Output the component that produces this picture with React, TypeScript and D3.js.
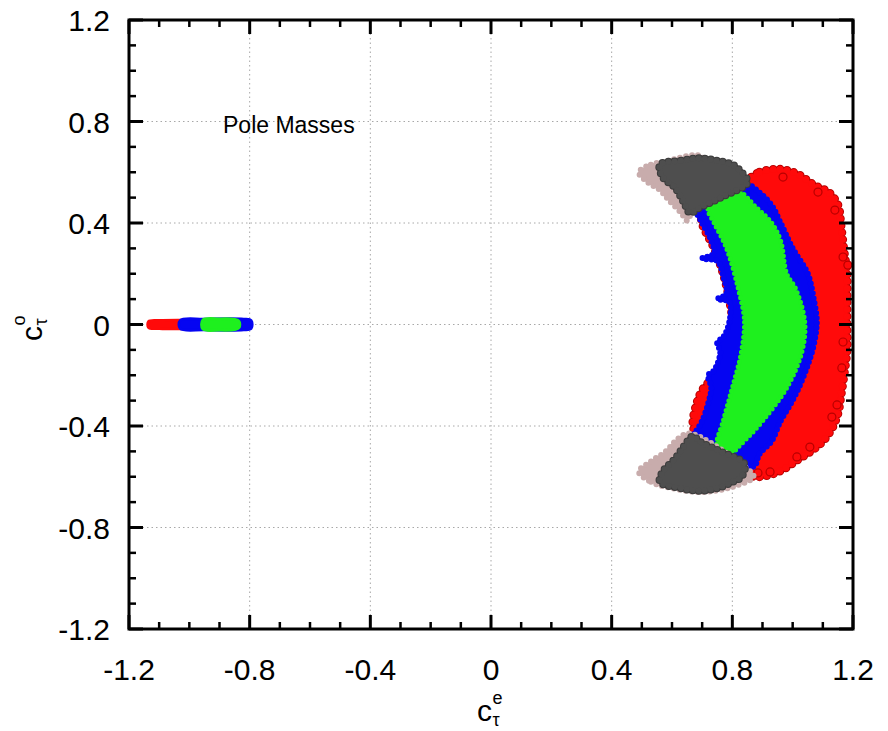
import React from "react";
import * as d3 from "d3";

// Axis ticks (both axes share the same range)
const majorTicks = [-1.2, -0.8, -0.4, 0, 0.4, 0.8, 1.2];
const tickLabels = ["-1.2", "-0.8", "-0.4", "0", "0.4", "0.8", "1.2"];

// Allowed parameter regions, outlined as [c_e, c_o] polygons.
// Red: widest region
const redCrescent: [number, number][] = [
  [0.85, 0.57], [0.89, 0.6], [0.93, 0.61], [0.97, 0.61], [1.02, 0.59], [1.07, 0.55],
  [1.12, 0.52], [1.15, 0.47], [1.16, 0.39], [1.17, 0.29], [1.18, 0.2], [1.18, 0.1],
  [1.18, 0.0], [1.18, -0.1], [1.17, -0.2], [1.16, -0.28], [1.15, -0.35], [1.13, -0.41],
  [1.1, -0.46], [1.06, -0.5], [1.02, -0.53], [0.97, -0.57], [0.93, -0.59], [0.88, -0.6],
  [0.85, -0.59], [0.79, -0.54], [0.73, -0.49], [0.69, -0.45], [0.67, -0.4], [0.68, -0.32],
  [0.7, -0.26], [0.74, -0.2], [0.78, -0.1], [0.8, 0.0], [0.79, 0.1], [0.77, 0.2],
  [0.74, 0.3], [0.7, 0.4], [0.7, 0.46], [0.76, 0.51],
];
// Isolated red points along the outer fringe
const redOutliers: [number, number][] = [
  [0.968, 0.581], [1.084, 0.522], [1.14, 0.451], [1.167, 0.266], [1.183, 0.234],
  [1.167, -0.069], [1.163, -0.171], [1.147, -0.317], [1.13, -0.365], [1.057, -0.483],
  [1.014, -0.522], [0.925, -0.581], [0.885, -0.585],
];
const redBar: [number, number][] = [
  [-1.135, 0.012], [-1.1, 0.016], [-1.0, 0.017], [-0.93, 0.015],
  [-0.93, -0.015], [-1.0, -0.017], [-1.1, -0.016], [-1.135, -0.012],
];

// Blue: intermediate region
const blueCrescent: [number, number][] = [
  [0.67, 0.45], [0.76, 0.5], [0.85, 0.55], [0.89, 0.52], [0.93, 0.47], [0.96, 0.4],
  [1.0, 0.3], [1.05, 0.2], [1.07, 0.1], [1.08, 0.01], [1.07, -0.08], [1.05, -0.16],
  [1.02, -0.25], [0.99, -0.32], [0.96, -0.38], [0.93, -0.46], [0.89, -0.51], [0.87, -0.56],
  [0.76, -0.5], [0.67, -0.44], [0.68, -0.42], [0.7, -0.38], [0.72, -0.31], [0.73, -0.25],
  [0.72, -0.2], [0.74, -0.18], [0.76, -0.11], [0.75, -0.07], [0.77, -0.05], [0.79, 0.01],
  [0.79, 0.09], [0.75, 0.1], [0.78, 0.12], [0.77, 0.19], [0.75, 0.25], [0.7, 0.26],
  [0.74, 0.28], [0.73, 0.33], [0.7, 0.4], [0.68, 0.44],
];
const blueBar: [number, number][] = [
  [-1.03, 0.016], [-0.95, 0.021], [-0.82, 0.021], [-0.795, 0.015],
  [-0.795, -0.015], [-0.82, -0.021], [-0.95, -0.021], [-1.03, -0.016],
];

// Green: narrowest region
const greenCrescent: [number, number][] = [
  [0.72, 0.46], [0.81, 0.53], [0.88, 0.46], [0.93, 0.4], [0.96, 0.33], [0.98, 0.2],
  [1.01, 0.14], [1.04, 0.01], [1.03, -0.11], [0.98, -0.25], [0.9, -0.38], [0.83, -0.47],
  [0.79, -0.51], [0.75, -0.48], [0.77, -0.38], [0.8, -0.25], [0.83, -0.11], [0.84, 0.02],
  [0.82, 0.14], [0.79, 0.27], [0.77, 0.33], [0.74, 0.4],
];
const greenBar: [number, number][] = [
  [-0.955, 0.018], [-0.9, 0.022], [-0.85, 0.02], [-0.835, 0.012],
  [-0.835, -0.012], [-0.85, -0.02], [-0.9, -0.022], [-0.955, -0.018],
];

// Grey: crescent tips
const lightGreyTop: [number, number][] = [
  [0.49, 0.6], [0.53, 0.63], [0.57, 0.64], [0.7, 0.66], [0.66, 0.43], [0.65, 0.41],
  [0.63, 0.44], [0.59, 0.49], [0.56, 0.53], [0.52, 0.56],
];
const lightGreyBottom: [number, number][] = [
  [0.49, -0.58], [0.53, -0.62], [0.58, -0.64], [0.7, -0.66], [0.8, -0.64], [0.87, -0.6],
  [0.85, -0.57], [0.66, -0.43], [0.62, -0.45], [0.58, -0.5], [0.53, -0.54],
];
const darkGreyTop: [number, number][] = [
  [0.56, 0.63], [0.63, 0.645], [0.69, 0.655], [0.75, 0.645], [0.8, 0.63], [0.83, 0.6],
  [0.85, 0.56], [0.76, 0.5], [0.69, 0.46], [0.66, 0.44], [0.64, 0.48], [0.61, 0.54],
  [0.57, 0.58],
];
const darkGreyBottom: [number, number][] = [
  [0.56, -0.62], [0.63, -0.645], [0.69, -0.655], [0.75, -0.645], [0.8, -0.62], [0.83, -0.6],
  [0.84, -0.55], [0.76, -0.5], [0.69, -0.46], [0.67, -0.44], [0.64, -0.48], [0.61, -0.53],
  [0.57, -0.58],
];

const W = 888;
const H = 731;
const left = 129;
const right = 853;
const top = 20;
const bottom = 629;
const FONT = "'Liberation Sans', Arial, Helvetica, sans-serif";

const x = d3.scaleLinear().domain([-1.2, 1.2]).range([left, right]);
const y = d3.scaleLinear().domain([-1.2, 1.2]).range([bottom, top]);

const blob = d3
  .line<[number, number]>()
  .x((d) => x(d[0]))
  .y((d) => y(d[1]))
  .curve(d3.curveCatmullRomClosed.alpha(0.5));

type Layer = {
  shapes: [number, number][][];
  fill: string;
  ring?: string;
  bead: number;
  gap: number;
};

const layers: Layer[] = [
  { shapes: [redCrescent, redBar], fill: "#ff0a0a", ring: "#b80000", bead: 7, gap: 7 },
  { shapes: [blueCrescent, blueBar], fill: "#0505f2", bead: 6, gap: 5 },
  { shapes: [greenCrescent, greenBar], fill: "#1ef01e", bead: 5, gap: 5 },
  { shapes: [lightGreyTop, lightGreyBottom], fill: "#c8acac", bead: 6, gap: 6 },
  { shapes: [darkGreyTop, darkGreyBottom], fill: "#4e4e4e", ring: "#3c3c3c", bead: 6, gap: 6 },
];

const minorTicks = d3
  .range(-12, 13)
  .map((i) => i / 10)
  .filter((v) => Math.abs(Math.round(v * 10) % 4) !== 0);

const isBar = (pts: [number, number][]) => pts === redBar || pts === blueBar || pts === greenBar;

// c with a superscript and a subscript, drawn from its left edge
function CoeffLabel({ sup }: { sup: string }) {
  return (
    <g fontFamily={FONT} fill="#000">
      <text x={0} y={0} fontSize={30}>c</text>
      <text x={15.5} y={-17} fontSize={18}>{sup}</text>
      <text x={15.5} y={5} fontSize={18}>τ</text>
    </g>
  );
}

export default function App() {
  return (
    <svg
      width={W}
      height={H}
      viewBox={`0 0 ${W} ${H}`}
      style={{ position: "absolute", left: 0, top: 0, display: "block", background: "#fff" }}
    >
      <defs>
        <clipPath id="plot-area">
          <rect x={left} y={top} width={right - left} height={bottom - top} />
        </clipPath>
      </defs>

      {/* dotted grid at major ticks */}
      <g stroke="#a8a8a8" strokeWidth={1} strokeDasharray="1.5 3">
        {majorTicks.slice(1, -1).map((v) => (
          <line key={`gx${v}`} x1={x(v)} x2={x(v)} y1={top} y2={bottom} />
        ))}
        {majorTicks.slice(1, -1).map((v) => (
          <line key={`gy${v}`} y1={y(v)} y2={y(v)} x1={left} x2={right} />
        ))}
      </g>

      {/* parameter regions */}
      <g clipPath="url(#plot-area)">
        {layers.map((L, li) => (
          <g key={li}>
            {L.shapes.map((pts, si) => {
              const d = blob(pts) || "";
              const small = isBar(pts);
              const bw = small ? 3 : L.bead;
              return (
                <g key={si}>
                  {L.ring && !small && (
                    <path
                      d={d}
                      fill="none"
                      stroke={L.ring}
                      strokeWidth={bw + 2}
                      strokeLinecap="round"
                      strokeDasharray={`0 ${L.gap}`}
                    />
                  )}
                  <path d={d} fill={L.fill} stroke="none" />
                  <path
                    d={d}
                    fill="none"
                    stroke={L.fill}
                    strokeWidth={bw}
                    strokeLinecap="round"
                    strokeDasharray={small ? "none" : `0 ${L.gap}`}
                  />
                </g>
              );
            })}
            {li === 0 &&
              redOutliers.map((p, i) => (
                <circle
                  key={`ro${i}`}
                  cx={x(p[0])}
                  cy={y(p[1])}
                  r={4}
                  fill="#ff0a0a"
                  stroke="#b80000"
                  strokeWidth={1.2}
                />
              ))}
          </g>
        ))}
      </g>

      {/* frame and ticks */}
      <g stroke="#000" strokeLinecap="butt">
        {majorTicks.map((v) => (
          <g key={`mt${v}`} strokeWidth={3}>
            <line x1={x(v)} x2={x(v)} y1={bottom} y2={bottom - 14} />
            <line x1={x(v)} x2={x(v)} y1={top} y2={top + 14} />
            <line y1={y(v)} y2={y(v)} x1={left} x2={left + 14} />
            <line y1={y(v)} y2={y(v)} x1={right} x2={right - 14} />
          </g>
        ))}
        {minorTicks.map((v) => (
          <g key={`nt${v}`} strokeWidth={2.5}>
            <line x1={x(v)} x2={x(v)} y1={bottom} y2={bottom - 7} />
            <line x1={x(v)} x2={x(v)} y1={top} y2={top + 7} />
            <line y1={y(v)} y2={y(v)} x1={left} x2={left + 7} />
            <line y1={y(v)} y2={y(v)} x1={right} x2={right - 7} />
          </g>
        ))}
        <rect
          x={left}
          y={top}
          width={right - left}
          height={bottom - top}
          fill="none"
          strokeWidth={3}
        />
      </g>

      {/* tick labels */}
      <g fontFamily={FONT} fontSize={30} fill="#000">
        {majorTicks.map((v, i) => (
          <text key={`xl${v}`} x={x(v)} y={680} textAnchor="middle">
            {tickLabels[i]}
          </text>
        ))}
        {majorTicks.map((v, i) => (
          <text key={`yl${v}`} x={110} y={y(v) + 11} textAnchor="end">
            {tickLabels[i]}
          </text>
        ))}
      </g>

      {/* annotation */}
      <text x={223} y={133} fontFamily={FONT} fontSize={23} fill="#000">
        Pole Masses
      </text>

      {/* axis titles */}
      <g transform="translate(477,721)">
        <CoeffLabel sup="e" />
      </g>
      <g transform="translate(42,341) rotate(-90)">
        <CoeffLabel sup="o" />
      </g>
    </svg>
  );
}
